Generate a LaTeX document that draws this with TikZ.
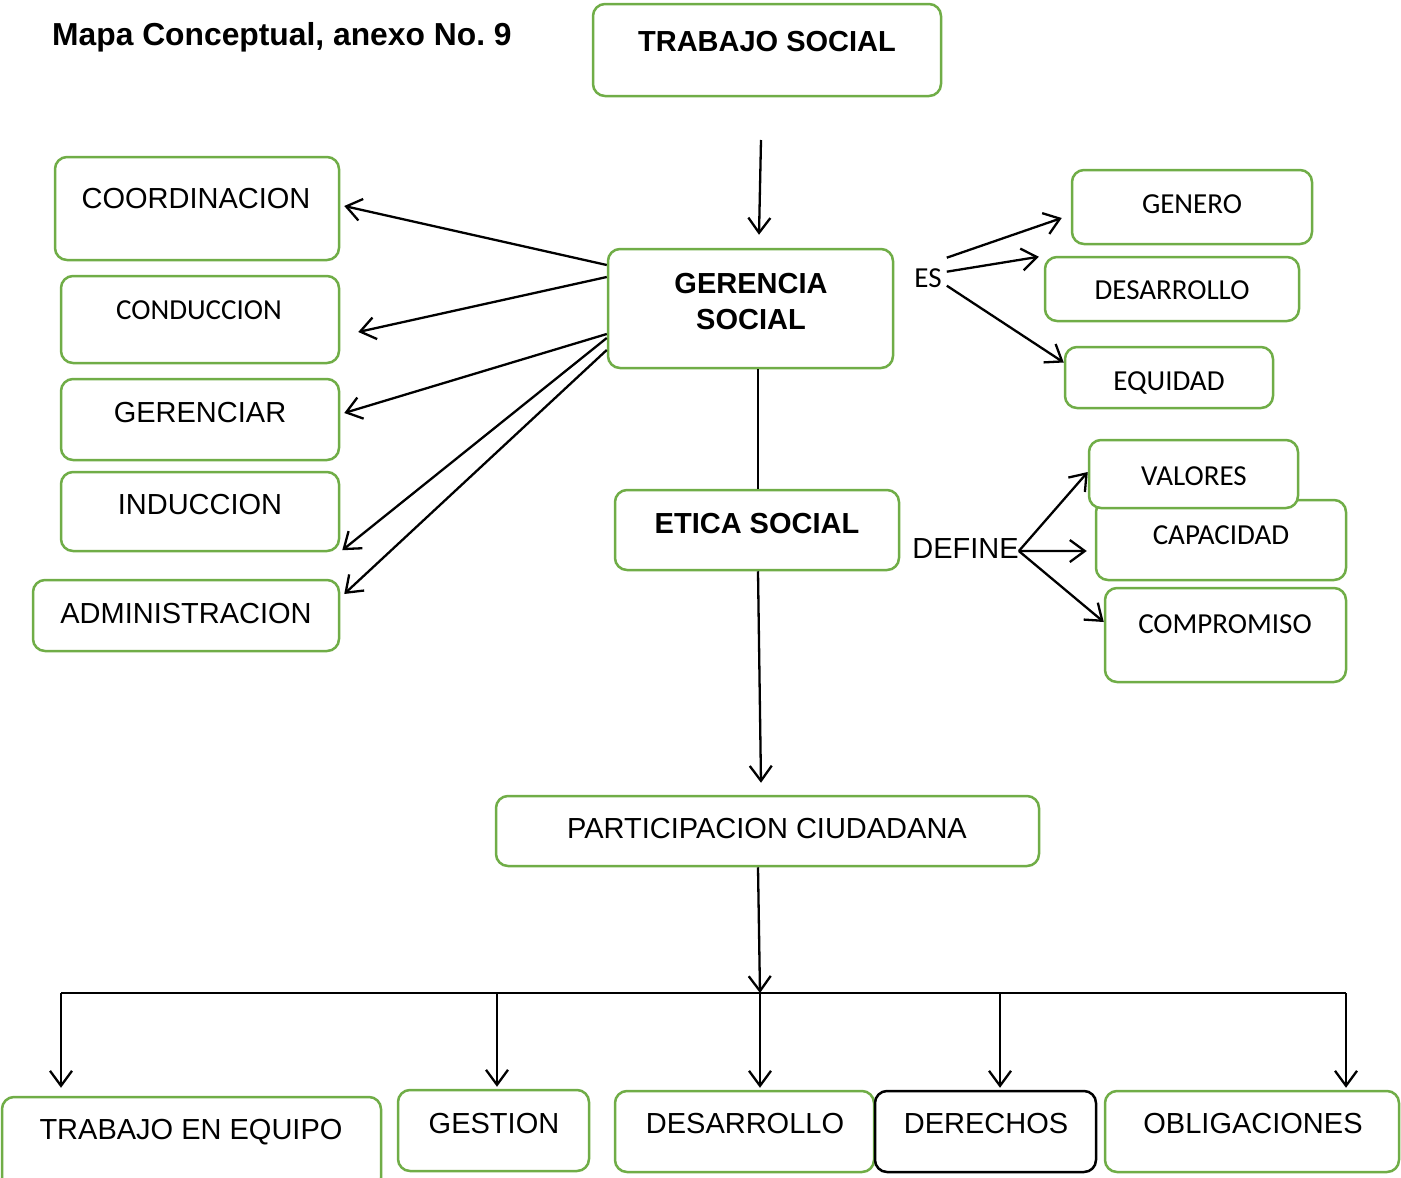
\documentclass[tikz,border=0pt]{standalone}
\usepackage{fontspec}
\setmainfont{Liberation Sans}
\newfontfamily\calfont{Carlito}
\usetikzlibrary{arrows.meta,calc}
\definecolor{boxgreen}{HTML}{70AD47}
\tikzset{
  box/.style={draw=boxgreen, line width=2.5pt, rounded corners=12pt, fill=white, inner sep=0pt},
  bbox/.style={box, draw=black},
  arr/.style={line width=2.3pt, -{Straight Barb[length=15pt,width=22pt,line width=2.3pt]}},
  ln/.style={line width=2.3pt},
  t/.style={font=\fontsize{29}{34}\selectfont, inner sep=0pt, anchor=base},
  tb/.style={font=\fontsize{29}{36}\selectfont\bfseries, inner sep=0pt, anchor=base},
  tc/.style={font=\calfont\fontsize{29}{34}\selectfont, inner sep=0pt, anchor=base},
}
\begin{document}
\begin{tikzpicture}[x=1pt,y=-1pt]
\useasboundingbox (0,0) rectangle (1401,1178);

% title
\node[font=\fontsize{31.8}{36}\selectfont\bfseries, inner sep=0pt, anchor=base west] (title) at (52,45) {Mapa Conceptual, anexo No.~9};

% boxes
\node[box, minimum width=348, minimum height=92] (ts) at (767,50) {};
\node[tb] (tstx) at (767,51) {TRABAJO SOCIAL};

\node[box, minimum width=284, minimum height=103] (coord) at (197,208.5) {};
\node[t] (coordtx) at (196,208) {COORDINACION};
\node[box, minimum width=278, minimum height=87] (cond) at (200,319.5) {};
\node[tc] (condtx) at (199,319) {CONDUCCION};
\node[box, minimum width=278, minimum height=81] (geren) at (200,419.5) {};
\node[t] (gerentx) at (200,422) {GERENCIAR};
\node[box, minimum width=278, minimum height=79] (induc) at (200,511.5) {};
\node[t] (inductx) at (200,514) {INDUCCION};
\node[box, minimum width=306, minimum height=71] (admin) at (186,615.5) {};
\node[t] (admintx) at (186,623) {ADMINISTRACION};

\node[box, minimum width=285, minimum height=119] (gs) at (750.5,308.5) {};
\node[tb] (gstx1) at (751,293) {GERENCIA};
\node[tb] (gstx2) at (751,329) {SOCIAL};

\node[box, minimum width=284, minimum height=80] (etica) at (757,530) {};
\node[tb] (eticatx) at (757,533) {ETICA SOCIAL};

\node[box, minimum width=240, minimum height=74] (genero) at (1192,207) {};
\node[tc] (generotx) at (1192,213) {GENERO};
\node[box, minimum width=254, minimum height=64] (desr) at (1172,289) {};
\node[tc] (desrtx) at (1172,299) {DESARROLLO};
\node[box, minimum width=208, minimum height=61] (equid) at (1169,377.5) {};
\node[tc] (equidtx) at (1169,390) {EQUIDAD};

\node[box, minimum width=250, minimum height=80] (capac) at (1221,540) {};
\node[tc] (capactx) at (1221,544) {CAPACIDAD};
\node[box, minimum width=209, minimum height=68] (valores) at (1193.5,474) {};
\node[tc] (valorestx) at (1194,485) {VALORES};
\node[box, minimum width=241, minimum height=94] (compr) at (1225.5,635) {};
\node[tc] (comprtx) at (1225,633) {COMPROMISO};

\node[tc] (es) at (928,287) {ES};
\node[t] (def) at (965.5,558) {DEFINE};

\node[box, minimum width=543, minimum height=70] (part) at (767.5,831) {};
\node[t] (parttx) at (767,838) {PARTICIPACION CIUDADANA};

\node[box, minimum width=379, minimum height=93] (tee) at (191.5,1143.5) {};
\node[t] (teetx) at (191,1139) {TRABAJO EN EQUIPO};
\node[box, minimum width=191, minimum height=81] (gest) at (493.5,1130.5) {};
\node[t] (gesttx) at (494,1133) {GESTION};
\node[box, minimum width=259, minimum height=81] (desb) at (744.5,1131.5) {};
\node[t] (desbtx) at (745,1133) {DESARROLLO};
\node[bbox, minimum width=221, minimum height=81] (der) at (985.5,1131.5) {};
\node[t] (dertx) at (986,1133) {DERECHOS};
\node[box, minimum width=294, minimum height=81] (obl) at (1252,1131.5) {};
\node[t] (obltx) at (1253,1133) {OBLIGACIONES};

% connectors
\coordinate (tsdown) at (761,140);
\draw[arr] (tsdown) -- ($(gs.north)+(8.5,-13)$);

\draw[arr] (gs.west |- 0,265) -- ($(coord.east |- 0,206)+(4,0)$);
\draw[arr] (gs.west |- 0,277) -- ($(cond.east |- 0,332)+(18,0)$);
\draw[arr] (gs.west |- 0,334) -- ($(geren.east |- 0,413)+(4,0)$);
\draw[arr] (gs.west |- 0,338) -- ($(induc.south east)+(2,-2)$);
\draw[arr] (gs.west |- 0,350) -- ($(admin.east |- 0,594)+(4,0)$);

\draw[ln] (gs.south -| 758,0) -- (etica.north -| 758,0);
\draw[arr] (etica.south -| 758,0) -- ($(part.north -| 761,0)+(0,-12)$);

\draw[arr] ($(es.east)+(5,-20)$) -- ($(genero.west)+(-9,11)$);
\draw[arr] ($(es.east)+(5,-6)$) -- ($(desr.north west)+(-5,1)$);
\draw[arr] ($(es.east)+(5,8)$) -- ($(equid.west)+(0,-15)$);

\coordinate (defout) at ($(def.east)+(0,3)$);
\draw[arr] (defout) -- ($(valores.west)+(0,-2)$);
\draw[arr] (defout) -- ($(capac.west)+(-8,11)$);
\draw[arr] (defout) -- ($(compr.west)+(0,-13)$);

\coordinate (busc) at (760,993);
\coordinate (busL) at (61,993);
\coordinate (busR) at (1346,993);
\draw[arr] (part.south -| 758,0) -- (busc);
\draw[ln] (busL) -- (busR);
\draw[arr] (busL) -- ($(tee.north -| 61,0)+(0,-8)$);
\draw[arr] (busL -| 497,0) -- ($(gest.north -| 497,0)+(0,-2)$);
\draw[arr] (busc) -- ($(desb.north -| 760,0)+(0,-2)$);
\draw[arr] (busL -| 1000,0) -- ($(der.north -| 1000,0)+(0,-2)$);
\draw[arr] (busR) -- ($(obl.north -| 1346,0)+(0,-2)$);
\end{tikzpicture}
\end{document}
